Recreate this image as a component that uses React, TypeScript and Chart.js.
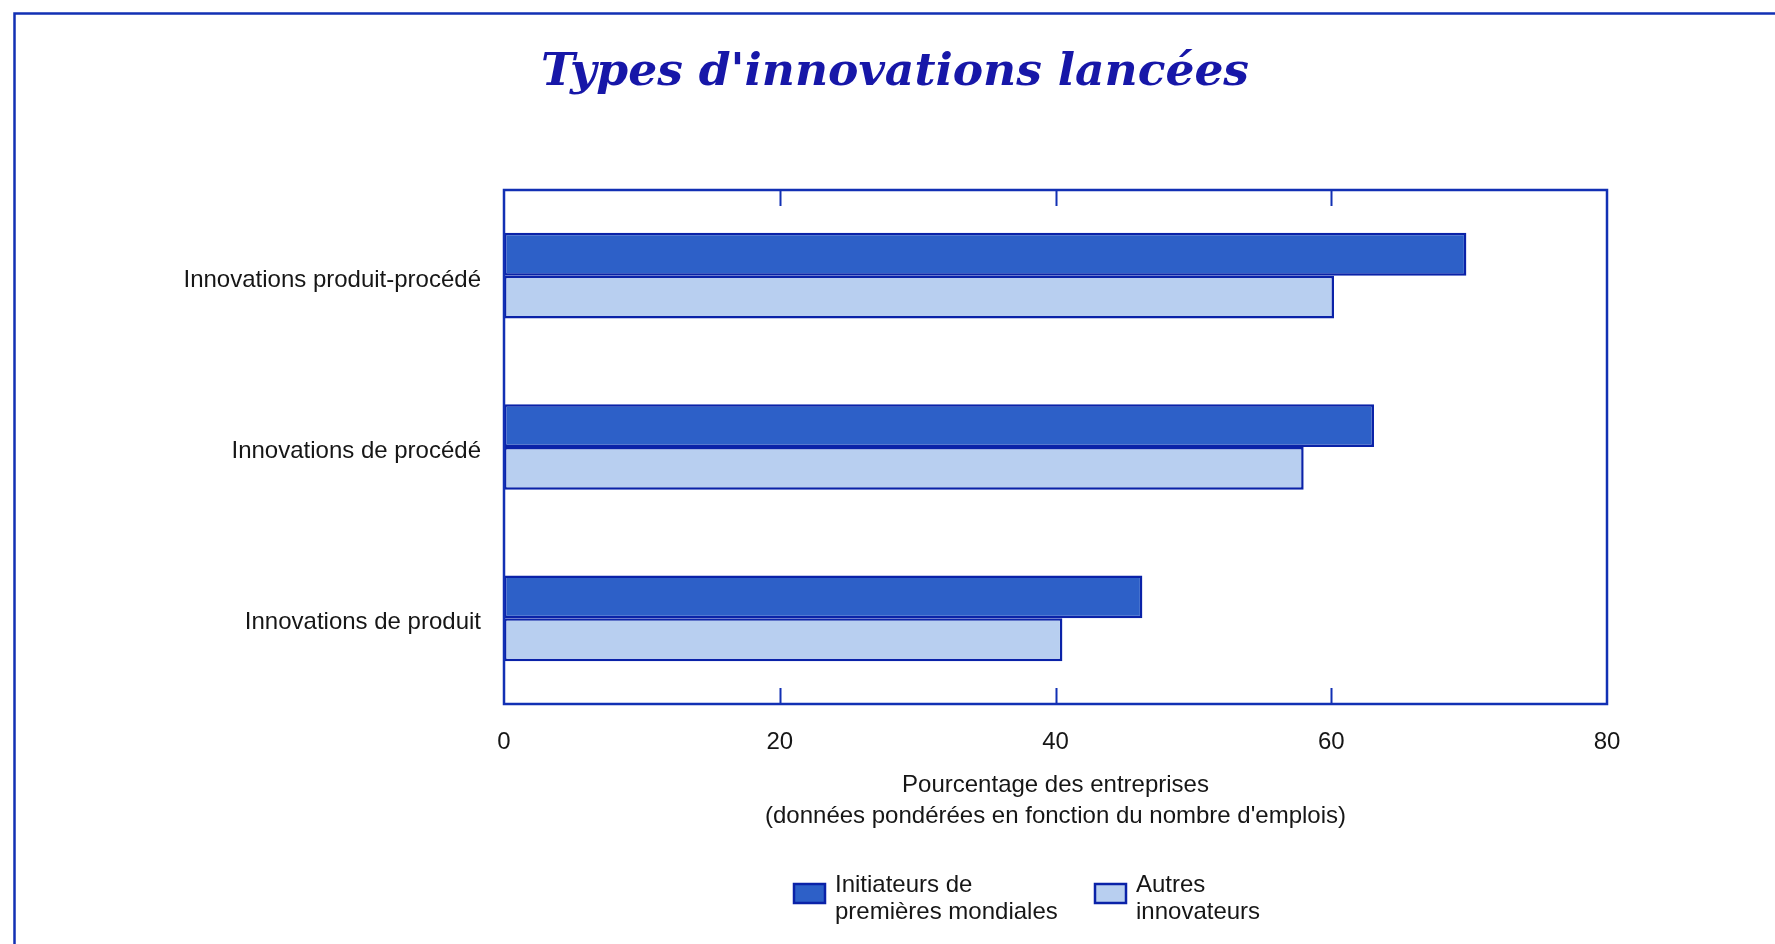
import React, { useEffect, useRef } from "react";
import { Chart, registerables } from "chart.js";

Chart.register(...registerables);

// Types of innovation (top to bottom)
const categories = [
  "Innovations produit-procédé",
  "Innovations de procédé",
  "Innovations de produit",
];

// Share of firms (%), weighted by employment
const initiateurs = [69.8, 63.1, 46.3];
const autres = [60.2, 58.0, 40.5];

const seriesNames = ["Initiateurs de premières mondiales", "Autres innovateurs"];
const legendLines = [
  ["Initiateurs de", "premières mondiales"],
  ["Autres", "innovateurs"],
];

const xTickValues = [0, 20, 40, 60, 80];
const innerTickValues = [20, 40, 60];

const chartTitle = "Types d'innovations lancées";
const axisTitle = [
  "Pourcentage des entreprises",
  "(données pondérées en fonction du nombre d'emplois)",
];

const W = 1775;
const H = 944;
const FRAME = "#1230b4";
const DARK_FILL = "#2d60c8";
const LIGHT_FILL = "#b8cff0";
const BAR_EDGE = "#0a22a8";
const TEXT = "#161616";
const SANS = '"Liberation Sans", Arial, Helvetica, sans-serif';
const FONT_SIZE = 24;

const decorations = {
  id: "decorations",
  beforeDraw(chart: any) {
    const ctx = chart.ctx;
    ctx.save();
    ctx.fillStyle = "#ffffff";
    ctx.fillRect(0, 0, W, H);
    // page frame (top and left rules)
    ctx.strokeStyle = FRAME;
    ctx.lineWidth = 2.5;
    ctx.beginPath();
    ctx.moveTo(W, 13.5);
    ctx.lineTo(14.5, 13.5);
    ctx.lineTo(14.5, H);
    ctx.stroke();
    ctx.restore();
  },
  afterDatasetsDraw(chart: any) {
    const ctx = chart.ctx;
    const a = chart.chartArea;
    const xs = chart.scales.x;
    ctx.save();
    // plot box
    ctx.strokeStyle = FRAME;
    ctx.lineWidth = 2.5;
    ctx.strokeRect(a.left, a.top, a.right - a.left, a.bottom - a.top);
    // inward tick marks on top and bottom edges
    ctx.lineWidth = 2;
    ctx.beginPath();
    for (const v of innerTickValues) {
      const px = Math.round(xs.getPixelForValue(v)) + 0.5;
      ctx.moveTo(px, a.top);
      ctx.lineTo(px, a.top + 16);
      ctx.moveTo(px, a.bottom);
      ctx.lineTo(px, a.bottom - 16);
    }
    ctx.stroke();

    const cx = (a.left + a.right) / 2;

    // title, fitted to its set width
    ctx.fillStyle = "#1717a8";
    ctx.font = 'italic bold 45px "DejaVu Serif", "Liberation Serif", serif';
    ctx.textAlign = "center";
    ctx.textBaseline = "alphabetic";
    const tw = ctx.measureText(chartTitle).width;
    const sx = 708 / tw;
    ctx.save();
    ctx.translate(895, 85);
    ctx.scale(sx, 1);
    ctx.fillText(chartTitle, 0, 0);
    ctx.restore();

    // x axis title
    ctx.fillStyle = TEXT;
    ctx.font = `${FONT_SIZE}px ${SANS}`;
    ctx.textBaseline = "middle";
    ctx.fillText(axisTitle[0], cx, a.bottom + 81);
    ctx.fillText(axisTitle[1], cx, a.bottom + 112);

    // legend
    const ds = chart.data.datasets;
    const boxX = [794, 1095];
    ctx.textAlign = "left";
    ds.forEach((d: any, i: number) => {
      ctx.fillStyle = d.backgroundColor;
      ctx.fillRect(boxX[i], 884, 31, 19);
      ctx.strokeStyle = d.borderColor;
      ctx.lineWidth = 2.5;
      ctx.strokeRect(boxX[i], 884, 31, 19);
      ctx.fillStyle = TEXT;
      legendLines[i].forEach((line, j) => {
        ctx.fillText(line, boxX[i] + 41, 885 + j * 27.5);
      });
    });
    ctx.restore();
  },
};

export default function App() {
  const ref = useRef<HTMLCanvasElement | null>(null);

  useEffect(() => {
    if (!ref.current) return;
    const chart = new Chart(ref.current, {
      type: "bar",
      data: {
        labels: categories,
        datasets: [
          {
            label: seriesNames[0],
            data: initiateurs,
            backgroundColor: DARK_FILL,
            borderColor: BAR_EDGE,
            borderWidth: 2.5,
            borderSkipped: false,
            categoryPercentage: 0.5,
            barPercentage: 1,
          },
          {
            label: seriesNames[1],
            data: autres,
            backgroundColor: LIGHT_FILL,
            borderColor: BAR_EDGE,
            borderWidth: 2.5,
            borderSkipped: false,
            categoryPercentage: 0.5,
            barPercentage: 1,
          },
        ],
      },
      options: {
        indexAxis: "y",
        responsive: false,
        animation: false,
        layout: { padding: { left: 0, right: 168, top: 190, bottom: 180 } },
        plugins: {
          legend: { display: false },
          title: { display: false },
          tooltip: { enabled: false },
        },
        scales: {
          x: {
            type: "linear",
            min: xTickValues[0],
            max: xTickValues[xTickValues.length - 1],
            afterBuildTicks: (s: any) => {
              s.ticks = xTickValues.map((v) => ({ value: v }));
            },
            grid: { display: false },
            border: { display: false },
            ticks: {
              padding: 16,
              color: TEXT,
              font: { family: SANS, size: FONT_SIZE },
            },
            afterFit: (s: any) => {
              s.height = 60;
            },
          },
          y: {
            type: "category",
            grid: { display: false },
            border: { display: false },
            ticks: {
              padding: 15,
              labelOffset: 4.5,
              color: TEXT,
              font: { family: SANS, size: FONT_SIZE },
            },
            afterFit: (s: any) => {
              s.width = 504;
            },
          },
        },
      },
      plugins: [decorations],
    });
    return () => chart.destroy();
  }, []);

  return (
    <div style={{ position: "fixed", left: 0, top: 0, width: W, height: H, background: "#fff" }}>
      <canvas ref={ref} width={W} height={H} style={{ display: "block", width: W, height: H }} />
    </div>
  );
}
